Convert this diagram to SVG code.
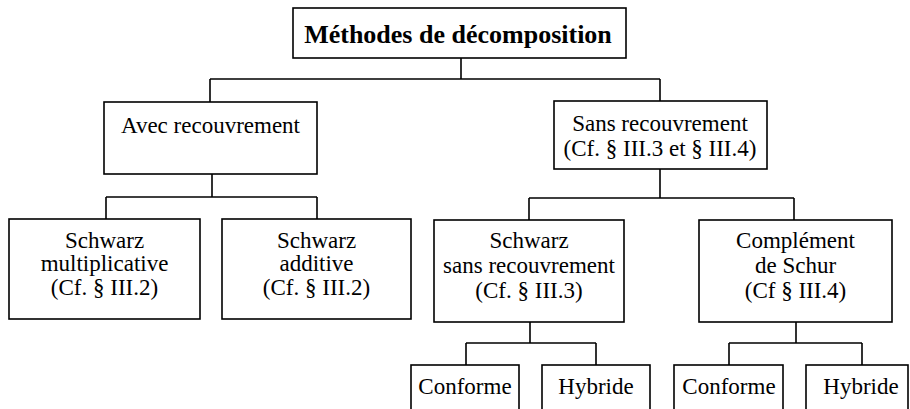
<svg xmlns="http://www.w3.org/2000/svg" width="910" height="409" viewBox="0 0 910 409">
<style>
rect{fill:#fff;stroke:#000;stroke-width:1.6}
text{font-family:'Liberation Serif','Times New Roman',Tinos,'DejaVu Serif',serif;font-size:23px;fill:#000;text-anchor:middle}
.t{font-weight:bold;font-size:26px}
#connectors path{fill:none;stroke:#000;stroke-width:1.6}
</style>
<rect x="0" y="0" width="910" height="409" style="stroke:none"/>
<g id="connectors">
<path d="M461,58V79M210,79H660M210,79V102M660,79V101"/>
<path d="M212,174V197M106,197H317M106,197V219M317,197V219"/>
<path d="M660,169V198M529,198H794M529,198V220M794,198V220"/>
<path d="M530,322V343M466,343H596M466,343V365M596,343V365"/>
<path d="M796,322V343M729,343H862M729,343V365M862,343V365"/>
</g>
<g id="n-title"><rect x="293" y="8" width="333" height="50"/><text class="t" x="458" y="43">Méthodes de décomposition</text></g>
<g id="n-avec"><rect x="104" y="102" width="213" height="72"/><text x="210.5" y="133">Avec recouvrement</text></g>
<g id="n-sans"><rect x="554" y="101" width="213" height="68"/><text x="660" y="131">Sans recouvrement</text><text x="660" y="156">(Cf. § III.3 et § III.4)</text></g>
<g id="n-smult"><rect x="9" y="219" width="191" height="100"/><text x="104.5" y="248">Schwarz</text><text x="104.5" y="271">multiplicative</text><text x="104.5" y="295">(Cf. § III.2)</text></g>
<g id="n-sadd"><rect x="222" y="219" width="189" height="100"/><text x="316.5" y="248">Schwarz</text><text x="316.5" y="271">additive</text><text x="316.5" y="295">(Cf. § III.2)</text></g>
<g id="n-ssans"><rect x="434" y="220" width="190" height="102"/><text x="529" y="248">Schwarz</text><text x="529" y="273">sans recouvrement</text><text x="529" y="298">(Cf. § III.3)</text></g>
<g id="n-schur"><rect x="699" y="220" width="193" height="102"/><text x="795.5" y="248">Complément</text><text x="795.5" y="273">de Schur</text><text x="795.5" y="298">(Cf § III.4)</text></g>
<g id="n-conf1"><rect x="411" y="365" width="108" height="60"/><text x="465" y="394">Conforme</text></g>
<g id="n-hyb1"><rect x="542" y="365" width="108" height="60"/><text x="596" y="394">Hybride</text></g>
<g id="n-conf2"><rect x="674" y="365" width="109" height="60"/><text x="729" y="394">Conforme</text></g>
<g id="n-hyb2"><rect x="806" y="365" width="102" height="60"/><text x="861" y="394">Hybride</text></g>
</svg>
